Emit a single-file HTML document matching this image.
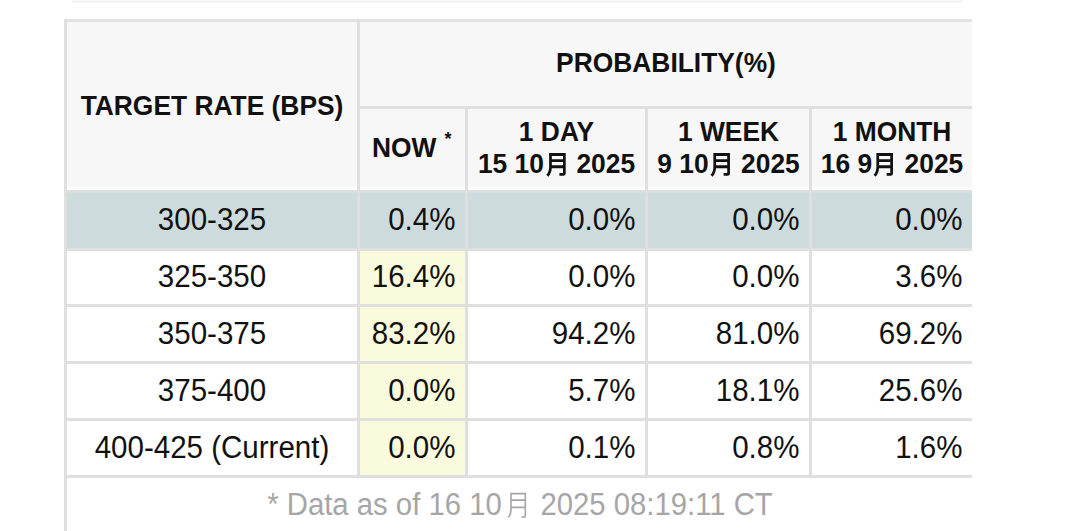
<!DOCTYPE html>
<html><head><meta charset="utf-8"><style>
html,body{margin:0;padding:0;background:#fff;}
body{width:1080px;height:531px;overflow:hidden;position:relative;font-family:"Liberation Sans",sans-serif;}
.r{position:absolute;}
.t{position:absolute;line-height:40px;height:40px;white-space:nowrap;color:#111111;box-sizing:border-box;}
.b{font-weight:bold;font-size:27.2px;transform:scaleX(0.97);}
.n{font-size:31.0px;transform:scaleX(0.952);}
.f{font-size:31.0px;color:#a6a6a6;transform:scaleX(0.945);}
.ast{font-weight:bold;font-size:18px;line-height:18px;height:18px;}
.mb{vertical-align:-4px;}
.mr{vertical-align:-6px;}
</style></head><body>
<div class="r" style="left:72px;top:0px;width:890px;height:3px;background:#f4f4f4;"></div>
<div class="r" style="left:72px;top:7px;width:890px;height:1px;background:#fafafa;"></div>
<div class="r" style="left:64px;top:19px;width:908px;height:171px;background:#f7f7f7;"></div>
<div class="r" style="left:64px;top:187px;width:908px;height:3px;background:#fcfcfc;"></div>
<div class="r" style="left:64px;top:193px;width:908px;height:55px;background:#cddbdd;"></div>
<div class="r" style="left:360px;top:251px;width:105px;height:53px;background:#fafadc;"></div>
<div class="r" style="left:360px;top:307px;width:105px;height:54px;background:#fafadc;"></div>
<div class="r" style="left:360px;top:364px;width:105px;height:54px;background:#fafadc;"></div>
<div class="r" style="left:360px;top:421px;width:105px;height:54px;background:#fafadc;"></div>
<div class="r" style="left:64px;top:19px;width:908px;height:3px;background:#e2e2e2;"></div>
<div class="r" style="left:64px;top:190px;width:908px;height:3px;background:linear-gradient(#e0e0e0,#d6dcdd);"></div>
<div class="r" style="left:64px;top:248px;width:908px;height:3px;background:#dfdfdf;"></div>
<div class="r" style="left:64px;top:304px;width:908px;height:3px;background:#dfdfdf;"></div>
<div class="r" style="left:64px;top:361px;width:908px;height:3px;background:#dfdfdf;"></div>
<div class="r" style="left:64px;top:418px;width:908px;height:3px;background:#dfdfdf;"></div>
<div class="r" style="left:64px;top:475px;width:908px;height:3px;background:#dfdfdf;"></div>
<div class="r" style="left:357px;top:106px;width:615px;height:3px;background:#dfdfdf;"></div>
<div class="r" style="left:64px;top:19px;width:3px;height:512px;background:#dfdfdf;"></div>
<div class="r" style="left:357px;top:19px;width:3px;height:456px;background:#dfdfdf;"></div>
<div class="r" style="left:465px;top:106px;width:3px;height:369px;background:#dfdfdf;"></div>
<div class="r" style="left:645px;top:106px;width:3px;height:369px;background:#dfdfdf;"></div>
<div class="r" style="left:809px;top:106px;width:3px;height:369px;background:#dfdfdf;"></div>
<div class="t b" style="left:67px;width:290px;top:85.8px;text-align:center;">TARGET RATE (BPS)</div>
<div class="t b" style="left:360px;width:612px;top:42.8px;text-align:center;">PROBABILITY(%)</div>
<div class="t b" style="left:371.5px;top:128.0px;transform-origin:0 50%;">NOW</div>
<div class="t ast" style="left:444.5px;top:129.5px;">*</div>
<div class="t b" style="left:468px;width:177px;top:112.3px;text-align:center;">1 DAY</div>
<div class="t b" style="left:468px;width:177px;top:143.5px;text-align:center;">15 10<svg class="mb" width="26" height="26" viewBox="0 0 26 26"><path d="M6.3,2 V16 Q6.3,21.5 3,24.8 M4.9,3.5 H22 M20.6,2 V22.5 Q20.6,23.3 19.5,23.3 H15.5 M6.3,9.7 H20.6 M6.3,15.75 H20.6" fill="none" stroke="#111" stroke-width="2.8"/></svg> 2025</div>
<div class="t b" style="left:648px;width:161px;top:112.3px;text-align:center;">1 WEEK</div>
<div class="t b" style="left:648px;width:161px;top:143.5px;text-align:center;">9 10<svg class="mb" width="26" height="26" viewBox="0 0 26 26"><path d="M6.3,2 V16 Q6.3,21.5 3,24.8 M4.9,3.5 H22 M20.6,2 V22.5 Q20.6,23.3 19.5,23.3 H15.5 M6.3,9.7 H20.6 M6.3,15.75 H20.6" fill="none" stroke="#111" stroke-width="2.8"/></svg> 2025</div>
<div class="t b" style="left:812px;width:160px;top:112.3px;text-align:center;">1 MONTH</div>
<div class="t b" style="left:812px;width:160px;top:143.5px;text-align:center;">16 9<svg class="mb" width="26" height="26" viewBox="0 0 26 26"><path d="M6.3,2 V16 Q6.3,21.5 3,24.8 M4.9,3.5 H22 M20.6,2 V22.5 Q20.6,23.3 19.5,23.3 H15.5 M6.3,9.7 H20.6 M6.3,15.75 H20.6" fill="none" stroke="#111" stroke-width="2.8"/></svg> 2025</div>
<div class="t n" style="left:67px;width:290px;top:199.8px;text-align:center;">300-325</div>
<div class="t n" style="left:360px;width:105px;top:199.8px;text-align:right;padding-right:10px;transform-origin:100% 50%;">0.4%</div>
<div class="t n" style="left:468px;width:177px;top:199.8px;text-align:right;padding-right:10px;transform-origin:100% 50%;">0.0%</div>
<div class="t n" style="left:648px;width:161px;top:199.8px;text-align:right;padding-right:10px;transform-origin:100% 50%;">0.0%</div>
<div class="t n" style="left:812px;width:160px;top:199.8px;text-align:right;padding-right:10px;transform-origin:100% 50%;">0.0%</div>
<div class="t n" style="left:67px;width:290px;top:256.8px;text-align:center;">325-350</div>
<div class="t n" style="left:360px;width:105px;top:256.8px;text-align:right;padding-right:10px;transform-origin:100% 50%;">16.4%</div>
<div class="t n" style="left:468px;width:177px;top:256.8px;text-align:right;padding-right:10px;transform-origin:100% 50%;">0.0%</div>
<div class="t n" style="left:648px;width:161px;top:256.8px;text-align:right;padding-right:10px;transform-origin:100% 50%;">0.0%</div>
<div class="t n" style="left:812px;width:160px;top:256.8px;text-align:right;padding-right:10px;transform-origin:100% 50%;">3.6%</div>
<div class="t n" style="left:67px;width:290px;top:313.8px;text-align:center;">350-375</div>
<div class="t n" style="left:360px;width:105px;top:313.8px;text-align:right;padding-right:10px;transform-origin:100% 50%;">83.2%</div>
<div class="t n" style="left:468px;width:177px;top:313.8px;text-align:right;padding-right:10px;transform-origin:100% 50%;">94.2%</div>
<div class="t n" style="left:648px;width:161px;top:313.8px;text-align:right;padding-right:10px;transform-origin:100% 50%;">81.0%</div>
<div class="t n" style="left:812px;width:160px;top:313.8px;text-align:right;padding-right:10px;transform-origin:100% 50%;">69.2%</div>
<div class="t n" style="left:67px;width:290px;top:370.8px;text-align:center;">375-400</div>
<div class="t n" style="left:360px;width:105px;top:370.8px;text-align:right;padding-right:10px;transform-origin:100% 50%;">0.0%</div>
<div class="t n" style="left:468px;width:177px;top:370.8px;text-align:right;padding-right:10px;transform-origin:100% 50%;">5.7%</div>
<div class="t n" style="left:648px;width:161px;top:370.8px;text-align:right;padding-right:10px;transform-origin:100% 50%;">18.1%</div>
<div class="t n" style="left:812px;width:160px;top:370.8px;text-align:right;padding-right:10px;transform-origin:100% 50%;">25.6%</div>
<div class="t n" style="left:67px;width:290px;top:427.8px;text-align:center;">400-425 (Current)</div>
<div class="t n" style="left:360px;width:105px;top:427.8px;text-align:right;padding-right:10px;transform-origin:100% 50%;">0.0%</div>
<div class="t n" style="left:468px;width:177px;top:427.8px;text-align:right;padding-right:10px;transform-origin:100% 50%;">0.1%</div>
<div class="t n" style="left:648px;width:161px;top:427.8px;text-align:right;padding-right:10px;transform-origin:100% 50%;">0.8%</div>
<div class="t n" style="left:812px;width:160px;top:427.8px;text-align:right;padding-right:10px;transform-origin:100% 50%;">1.6%</div>
<div class="t f" style="left:66px;width:908px;top:484.8px;text-align:center;">* Data as of 16 10<svg class="mr" width="32.3" height="30" viewBox="0 0 32.3 30"><path d="M9.5,2 V18 Q9.5,23.5 6.5,26.5 M8.8,2.7 H25.4 M24.6,2 V25.3 Q24.6,26 23.8,26 H20.3 M9.5,9.2 H24.6 M9.5,16.3 H24.6" fill="none" stroke="#a6a6a6" stroke-width="1.7"/></svg> 2025 08:19:11 CT</div>
</body></html>
